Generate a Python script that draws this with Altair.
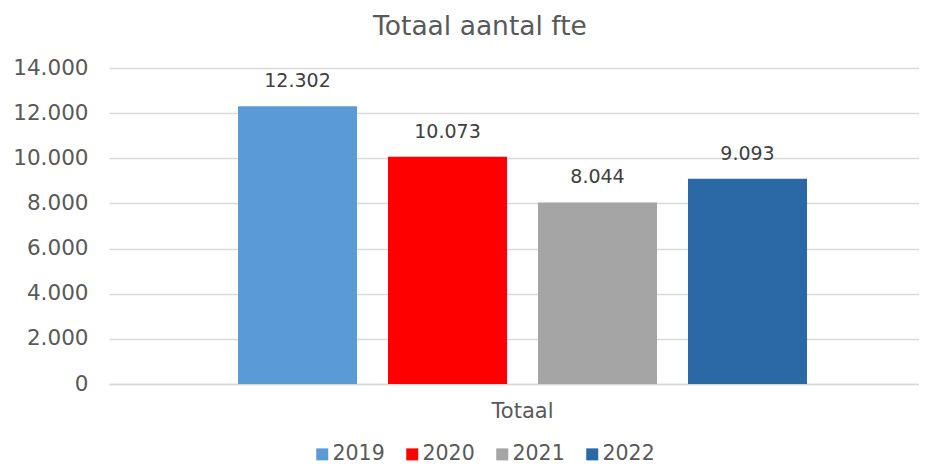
import altair as alt
import pandas as pd

years = ["2019", "2020", "2021", "2022"]
values = [12302, 10073, 8044, 9093]
category = ["Totaal", "Totaal", "Totaal", "Totaal"]
colors = ["#5B9BD5", "#FF0000", "#A5A5A5", "#2A69A6"]
y_ticks = [0, 2000, 4000, 6000, 8000, 10000, 12000, 14000]

df = pd.DataFrame({"cat": category, "year": years, "value": values})

FONT = "DejaVu Sans"
fmt = "replace(format(datum.value, ','), ',', '.')"

base = alt.Chart(df).transform_calculate(label=fmt).encode(
    x=alt.X(
        "cat:N",
        scale=alt.Scale(paddingInner=0, paddingOuter=0.175, align=0.5405),
        axis=alt.Axis(
            title=None, labelAngle=0, labelFontSize=21, labelColor="#595959",
            labelFont=FONT, labelPadding=16, ticks=False,
            domainColor="#d9d9d9", domainWidth=1.5,
        ),
    ),
    xOffset=alt.XOffset("year:N", sort=years,
                        scale=alt.Scale(paddingInner=0.2067, paddingOuter=0.1033)),
    y=alt.Y(
        "value:Q",
        scale=alt.Scale(domain=[0, 14000], nice=False),
        axis=alt.Axis(
            title=None, values=y_ticks, labelExpr=fmt, domain=False, ticks=False,
            gridColor="#d9d9d9", gridWidth=1.5, labelPadding=21,
            labelFontSize=21.5, labelColor="#595959", labelFont=FONT,
        ),
    ),
)

bars = base.mark_bar().encode(
    color=alt.Color(
        "year:N",
        scale=alt.Scale(domain=years, range=colors),
        legend=alt.Legend(
            title=None, orient="none", direction="horizontal",
            legendX=203, legendY=376, padding=0,
            symbolType="square", symbolSize=144, symbolStrokeWidth=0,
            labelFontSize=20.5, labelColor="#595959", labelFont=FONT,
            labelOffset=0, columnPadding=17,
        ),
    )
)

labels = base.mark_text(dy=-25, fontSize=19, color="#404040", font=FONT).encode(
    text="label:N"
)

chart = (
    alt.layer(bars, labels)
    .properties(
        width=810,
        height=316,
        title=alt.TitleParams(
            "Totaal aantal fte", fontSize=26.5, font=FONT, fontWeight="normal",
            color="#595959", dx=-34, offset=17,
        ),
        autosize=alt.AutoSizeParams(type="none"),
        padding={"left": 101, "top": 60, "right": 0, "bottom": 83},
    )
    .configure_view(stroke=None)
)

chart.save("out.html", embed_options={"renderer": "svg", "actions": False})
